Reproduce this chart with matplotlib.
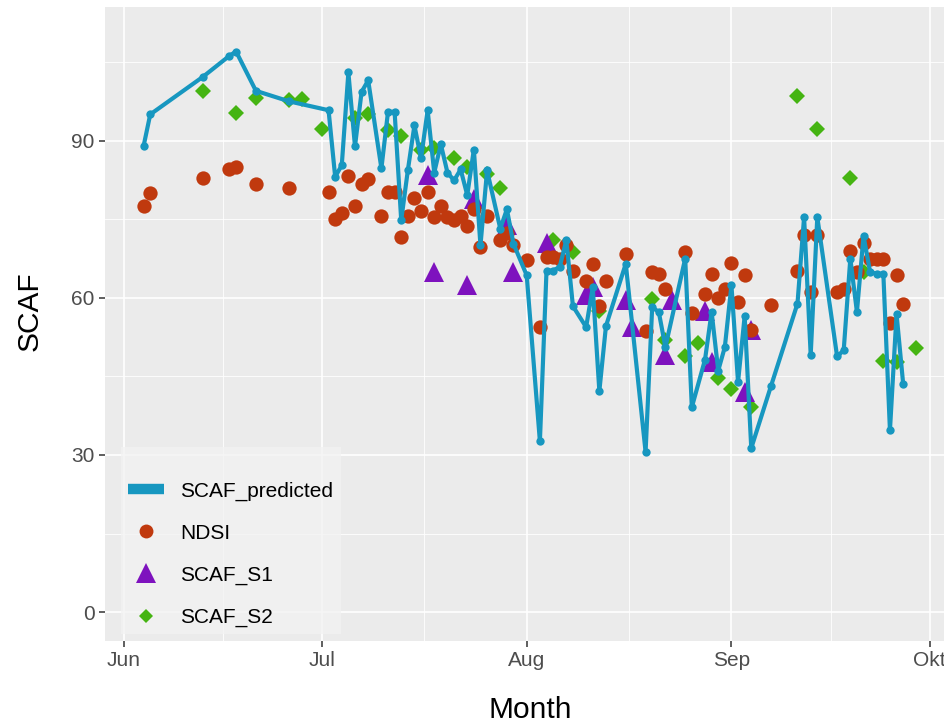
import matplotlib
matplotlib.use("Agg")
import matplotlib.pyplot as plt
import matplotlib.dates as mdates
from matplotlib.lines import Line2D
from matplotlib.ticker import FixedLocator
import pandas as pd

plt.rcParams['font.family'] = ['Liberation Sans', 'DejaVu Sans']

# ---------------- data ----------------
pred_dates = ["2020-06-04", "2020-06-05", "2020-06-13", "2020-06-17", "2020-06-18", "2020-06-21",
              "2020-06-26", "2020-07-02", "2020-07-03", "2020-07-04", "2020-07-05", "2020-07-06",
              "2020-07-07", "2020-07-08", "2020-07-10", "2020-07-11", "2020-07-12", "2020-07-13",
              "2020-07-14", "2020-07-15", "2020-07-16", "2020-07-17", "2020-07-18", "2020-07-19",
              "2020-07-20", "2020-07-21", "2020-07-22", "2020-07-23", "2020-07-24", "2020-07-25",
              "2020-07-26", "2020-07-28", "2020-07-29", "2020-07-30", "2020-08-01", "2020-08-03",
              "2020-08-04", "2020-08-05", "2020-08-06", "2020-08-07", "2020-08-08", "2020-08-10",
              "2020-08-11", "2020-08-12", "2020-08-13", "2020-08-16", "2020-08-19", "2020-08-20",
              "2020-08-21", "2020-08-22", "2020-08-25", "2020-08-26", "2020-08-28", "2020-08-29",
              "2020-08-30", "2020-08-31", "2020-09-01", "2020-09-02", "2020-09-03", "2020-09-04",
              "2020-09-07", "2020-09-11", "2020-09-12", "2020-09-13", "2020-09-14", "2020-09-17",
              "2020-09-18", "2020-09-19", "2020-09-20", "2020-09-21", "2020-09-22", "2020-09-23",
              "2020-09-24", "2020-09-25", "2020-09-26", "2020-09-27"]
pred_values = [89.0, 95.0, 102.2, 106.2, 107.0, 99.5,
               97.5, 95.8, 83.1, 85.3, 103.0, 88.9,
               99.3, 101.5, 84.7, 95.5, 95.5, 74.8,
               84.3, 92.9, 86.6, 95.8, 83.9, 89.3,
               83.9, 82.4, 84.5, 79.6, 88.3, 70.0,
               84.3, 73.2, 76.9, 70.3, 64.3, 32.6,
               65.2, 65.2, 65.9, 71.0, 58.4, 54.4,
               62.0, 42.2, 54.6, 66.5, 30.6, 58.2,
               57.3, 50.6, 67.5, 39.1, 48.2, 57.3,
               46.1, 50.6, 62.4, 43.9, 56.5, 31.3,
               43.2, 58.9, 75.4, 49.1, 75.4, 48.8,
               50.0, 67.5, 57.3, 71.8, 64.9, 64.6,
               64.6, 34.7, 56.9, 43.6]

ndsi_dates = ["2020-06-04", "2020-06-05", "2020-06-13", "2020-06-17", "2020-06-18", "2020-06-21",
              "2020-06-26", "2020-07-02", "2020-07-03", "2020-07-04", "2020-07-05", "2020-07-06",
              "2020-07-07", "2020-07-08", "2020-07-10", "2020-07-11", "2020-07-12", "2020-07-13",
              "2020-07-14", "2020-07-15", "2020-07-16", "2020-07-17", "2020-07-18", "2020-07-19",
              "2020-07-20", "2020-07-21", "2020-07-22", "2020-07-23", "2020-07-24", "2020-07-25",
              "2020-07-26", "2020-07-28", "2020-07-29", "2020-07-30", "2020-08-01", "2020-08-03",
              "2020-08-04", "2020-08-05", "2020-08-06", "2020-08-07", "2020-08-08", "2020-08-10",
              "2020-08-11", "2020-08-12", "2020-08-13", "2020-08-16", "2020-08-19", "2020-08-20",
              "2020-08-21", "2020-08-22", "2020-08-25", "2020-08-26", "2020-08-28", "2020-08-29",
              "2020-08-30", "2020-08-31", "2020-09-01", "2020-09-02", "2020-09-03", "2020-09-04",
              "2020-09-07", "2020-09-11", "2020-09-12", "2020-09-13", "2020-09-14", "2020-09-17",
              "2020-09-18", "2020-09-19", "2020-09-20", "2020-09-21", "2020-09-22", "2020-09-23",
              "2020-09-24", "2020-09-25", "2020-09-26", "2020-09-27"]
ndsi_values = [77.6, 80.0, 82.9, 84.5, 85.0, 81.8,
               81.0, 80.2, 75.0, 76.1, 83.2, 77.5,
               81.8, 82.7, 75.7, 80.1, 80.1, 71.6,
               75.7, 79.0, 76.5, 80.2, 75.4, 77.5,
               75.4, 74.8, 75.6, 73.7, 77.0, 69.7,
               75.6, 71.0, 72.4, 70.0, 67.3, 54.4,
               67.8, 67.8, 67.5, 70.1, 65.2, 63.3,
               66.5, 58.4, 63.3, 68.4, 53.6, 64.9,
               64.6, 61.6, 68.7, 57.1, 60.8, 64.6,
               59.9, 61.7, 66.6, 59.2, 64.3, 53.8,
               58.7, 65.2, 72.0, 61.2, 72.0, 61.1,
               61.7, 68.9, 64.9, 70.5, 67.5, 67.5,
               67.5, 55.2, 64.3, 58.9]

s1_dates = ["2020-07-17", "2020-07-18", "2020-07-23", "2020-07-24", "2020-07-29", "2020-07-30",
            "2020-08-04", "2020-08-10", "2020-08-11", "2020-08-16", "2020-08-17", "2020-08-22",
            "2020-08-23", "2020-08-28", "2020-08-29", "2020-09-03", "2020-09-04"]
s1_values = [83.4, 64.9, 62.4, 78.9, 73.8, 64.9,
             70.5, 60.6, 62.0, 59.5, 54.4, 49.1,
             59.5, 57.4, 47.7, 42.0, 53.8]

s2_dates = ["2020-06-13", "2020-06-18", "2020-06-21", "2020-06-26", "2020-06-28", "2020-07-01",
            "2020-07-06", "2020-07-08", "2020-07-11", "2020-07-13", "2020-07-16", "2020-07-18",
            "2020-07-21", "2020-07-23", "2020-07-26", "2020-07-28", "2020-08-05", "2020-08-08",
            "2020-08-12", "2020-08-20", "2020-08-22", "2020-08-25", "2020-08-27", "2020-08-30",
            "2020-09-01", "2020-09-04", "2020-09-11", "2020-09-14", "2020-09-19", "2020-09-21",
            "2020-09-24", "2020-09-26", "2020-09-29"]
s2_values = [99.4, 95.3, 98.2, 97.7, 97.9, 92.3,
             94.3, 95.1, 92.0, 90.9, 88.2, 88.6,
             86.6, 85.0, 83.7, 81.0, 71.0, 68.7,
             57.5, 59.8, 52.0, 48.9, 51.4, 44.7,
             42.5, 39.1, 98.5, 92.3, 82.9, 65.0,
             48.0, 47.8, 50.5]

month_ticks = ["2020-06-01", "2020-07-01", "2020-08-01", "2020-09-01", "2020-10-01"]
month_labels = ["Jun", "Jul", "Aug", "Sep", "Okt"]
y_ticks = [0, 30, 60, 90]
y_minor = [15, 45, 75, 105]
series_labels = ["SCAF_predicted", "NDSI", "SCAF_S1", "SCAF_S2"]

BLUE = "#1797C0"
RED = "#C0390E"
PURPLE = "#7E12BE"
GREEN = "#45B412"

# ---------------- figure ----------------
fig = plt.figure(figsize=(9.45, 7.22), dpi=100)
ax = fig.add_axes([105 / 945, 81 / 722, 850 / 945, 634 / 722])
ax.set_facecolor("#EBEBEB")
for s in ax.spines.values():
    s.set_visible(False)

pdt = pd.to_datetime(pred_dates)
ndt = pd.to_datetime(ndsi_dates)
s1t = pd.to_datetime(s1_dates)
s2t = pd.to_datetime(s2_dates)

ax.plot(s2t, s2_values, ls="none", marker="D", ms=8.2, color=GREEN, mew=0, zorder=3)
ax.plot(s1t, s1_values, ls="none", marker="^", ms=14.5, color=PURPLE, mew=0, zorder=4)
ax.plot(ndt, ndsi_values, ls="none", marker="o", ms=10.3, color=RED, mew=0, zorder=5)
ax.plot(pdt, pred_values, ls="-", lw=3.0, color=BLUE, zorder=6, solid_joinstyle="round")
ax.plot(pdt, pred_values, ls="none", marker="o", ms=6.0, color=BLUE, mew=0, zorder=7)

# x limits with ggplot-style 5% expansion
all_dates = pdt.union(ndt).union(s1t).union(s2t)
dmin, dmax = all_dates.min(), all_dates.max()
span = dmax - dmin
ax.set_xlim(dmin - 0.05 * span, dmax + 0.05 * span)
ax.set_ylim(-5.5, 115.5)

mt = pd.to_datetime(month_ticks)
ax.xaxis.set_major_locator(FixedLocator(mdates.date2num(mt)))
ax.set_xticklabels(month_labels)
mnum = mdates.date2num(mt)
ax.xaxis.set_minor_locator(FixedLocator([(a + b) / 2 for a, b in zip(mnum[:-1], mnum[1:])]))
ax.yaxis.set_major_locator(FixedLocator(y_ticks))
ax.yaxis.set_minor_locator(FixedLocator(y_minor))

ax.grid(which="major", color="white", lw=1.2)
ax.grid(which="minor", color="white", lw=0.6)
ax.set_axisbelow(True)
ax.tick_params(which="major", colors="#333333", labelcolor="#4D4D4D", length=4,
               width=1.1, labelsize=15, pad=3.5)
ax.tick_params(which="minor", length=0)

ax.set_xlabel("Month", fontsize=21.5, color="black")
ax.xaxis.set_label_coords(0.5, -0.086)
ax.set_ylabel("SCAF", fontsize=21.5, color="black")
ax.yaxis.set_label_coords(-0.072, 0.52)

handles = [
    Line2D([], [], color=BLUE, lw=7.5, solid_capstyle="butt"),
    Line2D([], [], ls="none", marker="o", ms=10, color=RED, mew=0),
    Line2D([], [], ls="none", marker="^", ms=14.5, color=PURPLE, mew=0),
    Line2D([], [], ls="none", marker="D", ms=7.5, color=GREEN, mew=0),
]
leg = ax.legend(handles, series_labels, loc="lower left", bbox_to_anchor=(0.019, 0.0105),
                borderaxespad=0, fontsize=15, frameon=True, fancybox=False,
                facecolor="#F2F2F2", edgecolor="none", framealpha=0.75,
                handlelength=1.7, handletextpad=0.8, labelspacing=1.1, borderpad=0.35,
                title=" ", title_fontsize=3)
leg.set_zorder(10)

fig.savefig("out.png", dpi=100)
